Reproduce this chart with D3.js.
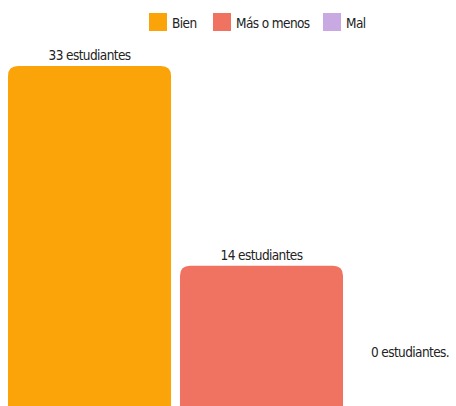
<!DOCTYPE html>
<head>
<meta charset="utf-8">
<style>
body { margin: 0; background: #fff; }
svg { display: block; }
.chart text { font-family: "DejaVu Sans Condensed", "Liberation Sans Narrow", sans-serif; font-size: 13.5px; letter-spacing: -0.6px; fill: #222; }
</style>
</head>
<body>
<svg class="chart"></svg>
<script src="https://d3js.org/d3.v7.min.js"></script>
<script>

const categories = ['Bien', 'Más o menos', 'Mal']
const values = [33, 14, 0]
const labels = ['33 estudiantes', '14 estudiantes', '0 estudiantes.']
const colors = ['#FBA40A', '#F07362', '#C9A9E2']

const size = {width: 456, height: 406}
const radius = 10

const chart = d3.select('svg')
  .attr('width', size.width)
  .attr('height', size.height)

const x = d3.scaleBand()
  .domain(categories)
  .range([8, 515])
  .paddingInner(0.052)
  .paddingOuter(0)

const y = d3.scaleLinear()
  .domain([0, 33])
  .range([413, 66])

const color = d3.scaleOrdinal().domain(categories).range(colors)

const data = categories.map((c, i) => ({cat: c, value: values[i], label: labels[i]}))

// bar with rounded top corners only
function barPath(d) {
  const x0 = x(d.cat), w = x.bandwidth()
  const top = y(d.value), bottom = y(0)
  const r = Math.min(radius, (bottom - top))
  if (r <= 0) return ''
  return `M${x0},${bottom} V${top + r} Q${x0},${top} ${x0 + r},${top} H${x0 + w - r} Q${x0 + w},${top} ${x0 + w},${top + r} V${bottom} Z`
}

chart.append('g')
  .selectAll('path')
  .data(data)
  .join('path')
    .attr('d', barPath)
    .attr('fill', d => color(d.cat))

chart.append('g')
  .selectAll('text')
  .data(data)
  .join('text')
    .attr('x', d => d.value > 0 ? x(d.cat) + x.bandwidth() / 2 : x(d.cat) + 19)
    .attr('y', d => d.value > 0 ? y(d.value) - 6 : y(0) - 56)
    .attr('text-anchor', d => d.value > 0 ? 'middle' : 'start')
    .text(d => d.label)

// legend
const legendX = [149, 213, 323]
const legend = chart.append('g')
  .selectAll('g')
  .data(categories)
  .join('g')
    .attr('transform', (d, i) => `translate(${legendX[i]}, 13)`)

legend.append('rect')
  .attr('width', 18)
  .attr('height', 18)
  .attr('fill', d => color(d))

legend.append('text')
  .attr('x', 23)
  .attr('y', 15)
  .text(d => d)

</script>
</body>
